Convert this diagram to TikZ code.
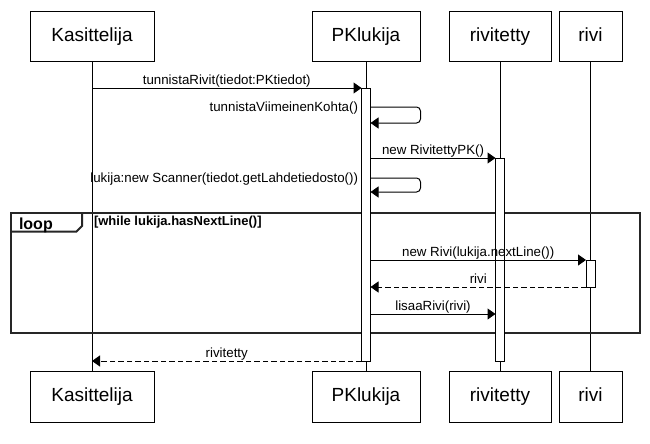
\documentclass[tikz,border=0pt]{standalone}
\usepackage{fontspec}
\setmainfont{Liberation Sans}
\usetikzlibrary{arrows.meta}
\begin{document}
\begin{tikzpicture}[x=1pt,y=-1pt,
  every node/.style={inner sep=0pt, outer sep=0pt},
  actor/.style={draw, line width=1pt, minimum height=50.5pt, text height=13.6pt, text depth=4pt, font=\fontsize{19}{22}\selectfont},
  lifeline/.style={line width=1pt},
  act/.style={draw, fill=white, line width=1pt, minimum width=9pt},
  msg/.style={line width=1pt, -{Triangle[length=8pt,width=11pt]}},
  ret/.style={msg, dash pattern=on 5.5pt off 3pt},
  lbl/.style={font=\fontsize{13.3}{15}\selectfont, anchor=base, yshift=3.5pt},
  slbl/.style={font=\fontsize{13.3}{15}\selectfont, anchor=base east},
  frame/.style={draw=black!85, line width=2pt},
]
\useasboundingbox (0,0) rectangle (650,444);
\fill[white] (0,0) rectangle (650,444);

% actors
\node[actor, minimum width=124pt] (kt) at (92,36.75) {Kasittelija};
\node[actor, minimum width=108pt] (pt) at (366,36.75) {PKlukija};
\node[actor, minimum width=102pt] (rt) at (500,36.75) {rivitetty};
\node[actor, minimum width=63pt] (vt) at (590.5,36.75) {rivi};
\node[actor, minimum width=124pt] (kb) at (92,396.75) {Kasittelija};
\node[actor, minimum width=108pt] (pb) at (366,396.75) {PKlukija};
\node[actor, minimum width=102pt] (rb) at (500,396.75) {rivitetty};
\node[actor, minimum width=63pt] (vb) at (590.5,396.75) {rivi};

% lifelines
\draw[lifeline] (kt) -- (kb);
\draw[lifeline] (pt) -- (pb);
\draw[lifeline] (rt) -- (rb);
\draw[lifeline] (vt) -- (vb);

% loop frame
\node[frame, minimum width=629pt, minimum height=120.5pt] (loop) at (325.5,272.75) {};
\draw[frame] ([yshift=-19pt]loop.north west) -- ++(65.5,0) -- ++(5.5,-5.5) -- ([xshift=71pt]loop.north west);
\node[font=\bfseries\fontsize{16}{18}\selectfont, anchor=base west] (looplbl) at (19,229) {loop};
\node[font=\bfseries\fontsize{13}{15}\selectfont, anchor=base west] (cond) at (94,225.5) {[while lukija.hasNextLine()]};

% activations
\node[act, minimum height=273pt] (apk) at (366,224.5) {};
\node[act, minimum height=203pt] (art) at (500,259.5) {};
\node[act, minimum height=27pt] (arv) at (590.5,273.5) {};

\coordinate (m8) at (0,314);

% messages
\draw[msg] (kt |- apk.north) -- (apk.north west) node[lbl, midway] {tunnistaRivit(tiedot:PKtiedot)};

\draw[msg, rounded corners=4pt] ([yshift=-19pt]apk.north east) -- ++(50,0) -- ++(0,16) -- ([yshift=-35pt]apk.north east);
\node[slbl] (s1) at ([xshift=-3.5pt, yshift=-23pt]apk.north west) {tunnistaViimeinenKohta()};

\draw[msg] (apk.east |- art.north) -- (art.north west) node[lbl, midway] {new RivitettyPK()};

\draw[msg, rounded corners=4pt] ([yshift=-90pt]apk.north east) -- ++(50,0) -- ++(0,14) -- ([yshift=-104pt]apk.north east);
\node[slbl] (s2) at ([xshift=-3.5pt, yshift=-94pt]apk.north west) {lukija:new Scanner(tiedot.getLahdetiedosto())};

\draw[msg] (apk.east |- arv.north) -- (arv.north west) node[lbl, midway] {new Rivi(lukija.nextLine())};
\draw[ret] (arv.south west) -- (apk.east |- arv.south) node[lbl, midway] {rivi};
\draw[msg] (apk.east |- m8) -- (art.west |- m8) node[lbl, midway] {lisaaRivi(rivi)};
\draw[ret] (apk.south west) -- (kt |- apk.south) node[lbl, midway] {rivitetty};
\end{tikzpicture}
\end{document}
